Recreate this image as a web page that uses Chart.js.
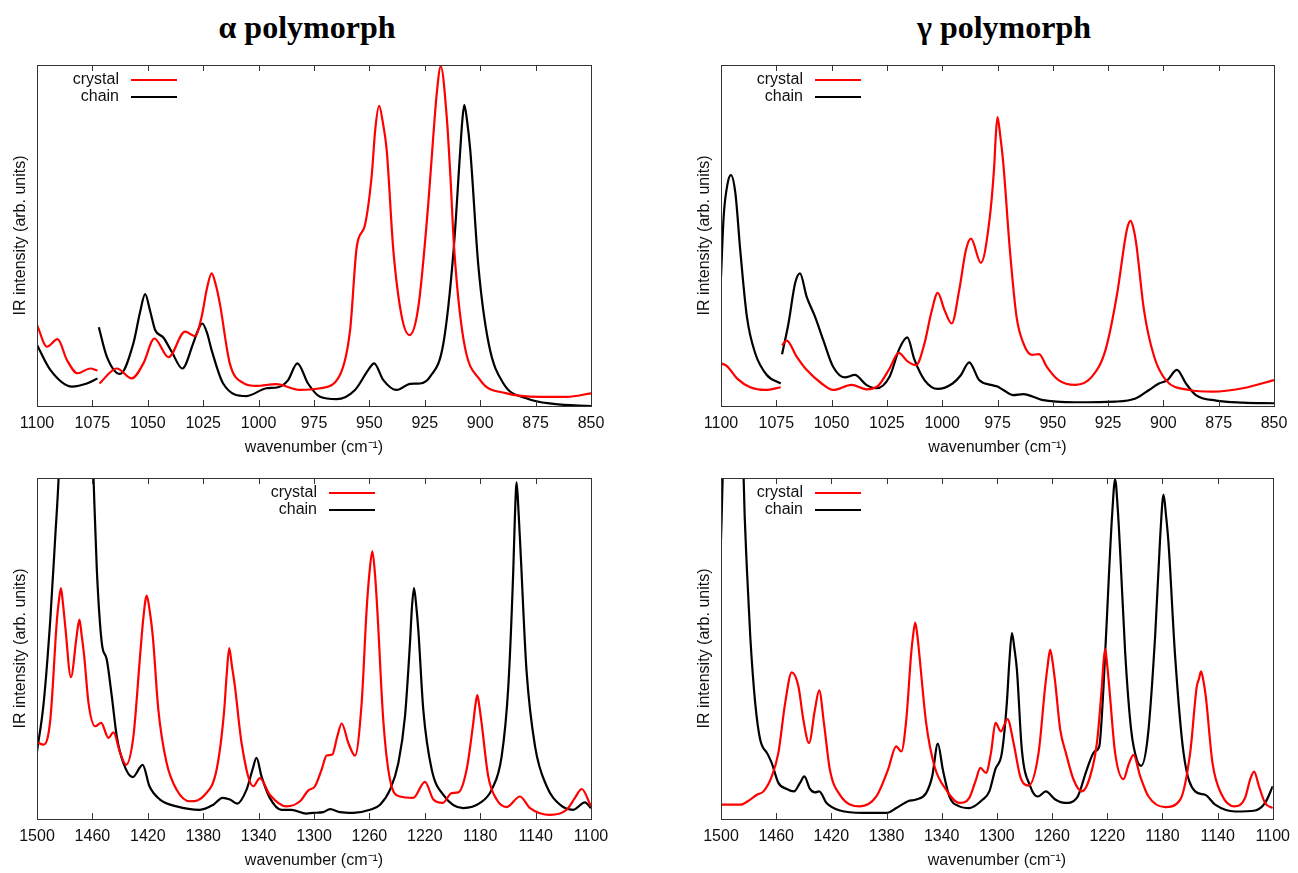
<!DOCTYPE html>
<html>
<head>
<meta charset="utf-8">
<script src="https://cdn.jsdelivr.net/npm/chart.js@4.4.1/dist/chart.umd.min.js"></script>
<style>
body { margin: 0; background: #fff; width: 1298px; height: 873px; position: relative; overflow: hidden; }
canvas { position: absolute; }
.ttl { position: absolute; width: 400px; text-align: center; font: bold 32px "Liberation Serif", serif; line-height: 32px; color: #000; top: 11px; }
</style>
</head>
<body>
<div class="ttl" style="left:107px">α polymorph</div>
<div class="ttl" style="left:804px">γ polymorph</div>
<canvas id="alphaLow" width="620" height="422" style="left:0;top:40px"></canvas>
<canvas id="gammaLow" width="614" height="422" style="left:684px;top:40px"></canvas>
<canvas id="alphaHigh" width="620" height="422" style="left:0;top:453px"></canvas>
<canvas id="gammaHigh" width="614" height="422" style="left:684px;top:453px"></canvas>
<script>
// tick labels
var lowTicks = [1100, 1075, 1050, 1025, 1000, 975, 950, 925, 900, 875, 850];
var highTicks = [1500, 1460, 1420, 1380, 1340, 1300, 1260, 1220, 1180, 1140, 1100];

// alpha polymorph, 850-1100 cm-1 (null = break in the curve)
var alphaLowCrystalX = [1100, 1095.5, 1090.7, 1086.5, 1081.7, 1076, 1072.7, 1072.3, 1071.8, 1064, 1057.2, 1052, 1047, 1040.7, 1033.2, 1028.7, 1025.7, 1023.3, 1021.2, 1019.3, 1017.5, 1013, 1007, 1001, 992, 981.5, 972.3, 963.3, 958.7, 955.7, 952, 949, 947.3, 945.6, 943.9, 942.2, 939.2, 935.4, 931.9, 927.9, 923.3, 921.3, 919.6, 917.8, 915.1, 913.5, 911.7, 907.5, 900, 888, 872.9, 860.8, 850];
var alphaLowCrystalY = [23.8, 17.4, 19.6, 13.5, 9.6, 11.0, 10.4, null, 6.6, 11.0, 8.1, 12.5, 19.8, 14.3, 21.8, 20.5, 26.2, 34.5, 38.9, 35.5, 30.1, 12.5, 6.8, 5.9, 6.4, 4.7, 5.2, 9.1, 22.3, 46.7, 53.1, 67.3, 81.5, 88.0, 83, 75.1, 45.7, 26.2, 20.8, 29.1, 60.4, 78, 91.7, 99.6, 84.8, 68, 45.7, 19.4, 7.6, 3.7, 2.7, 2.7, 3.7];
var alphaLowChainX = [1100, 1094, 1084.2, 1077.5, 1072.7, 1072.4, 1072.1, 1068.5, 1062.5, 1056.5, 1053.5, 1051.2, 1049, 1046.7, 1043, 1039.2, 1034.4, 1029.5, 1027.5, 1025.4, 1023.3, 1021.2, 1016, 1005.5, 996.5, 991.2, 986.7, 982.5, 977.7, 972.3, 964.8, 956.5, 950.5, 947.9, 943.7, 937.7, 931.6, 927.1, 922.6, 916.6, 912, 909, 908.1, 907.2, 905.9, 904.5, 900.8, 896.2, 889.5, 878.9, 866.9, 850];
var alphaLowChainY = [17.9, 10.6, 5.7, 6.6, 8.1, null, 23.1, 14.5, 9.4, 18.4, 27.5, 32.8, 28, 22.3, 20.1, 15.9, 11.0, 18.4, 22, 24.2, 21.5, 16.4, 6.6, 2.9, 5.2, 5.5, 7.6, 12.5, 6.6, 2.7, 2.0, 4.7, 10.6, 12.5, 7.6, 4.7, 6.5, 6.6, 8.6, 18.4, 45.7, 75.1, 83.5, 88.3, 83.5, 75.1, 40.9, 18.4, 6.6, 2.2, 0.6, 0];

// gamma polymorph, 850-1100 cm-1
var gammaLowCrystalX = [1100, 1097.3, 1092.8, 1086.8, 1080, 1073, 1072.7, 1072.4, 1070.3, 1065.8, 1061.3, 1054.5, 1049.3, 1041, 1034.3, 1029, 1023.8, 1019.7, 1015.5, 1011.8, 1008, 1005, 1002, 999, 995.7, 992.3, 989.3, 987, 982.5, 978.8, 976.5, 975.8, 975, 973.8, 972.4, 969.4, 966.4, 963.3, 959.5, 956.2, 952.7, 947.4, 939.8, 932.3, 926.2, 920.9, 917.1, 916, 914.8, 913.5, 912.3, 908.8, 904.2, 898.9, 888.3, 877.7, 864.1, 850];
var gammaLowCrystalY = [12.5, 11.7, 8.1, 5.5, 4.7, 5.5, null, 17.8, 19.2, 14.5, 10.6, 6.6, 4.7, 6.2, 4.9, 5.9, 11.0, 15.6, 13.0, 12.0, 18.4, 27.2, 33.2, 28.2, 24.2, 34.0, 45.7, 49.1, 42.0, 53.6, 70.2, 79, 84.7, 79.5, 71.3, 45.7, 26.2, 18.4, 15.0, 15.2, 11.5, 7.6, 6.2, 8.6, 16.4, 33.0, 49.7, 53, 54.3, 52, 47.7, 28.2, 14.5, 7.6, 4.7, 4.2, 5.2, 7.6];
var gammaLowChainX = [1100, 1098.8, 1097, 1095.5, 1093.5, 1091.3, 1088.3, 1084.5, 1079.3, 1073, 1072.7, 1072.4, 1069.5, 1066.5, 1064.3, 1061.3, 1057.5, 1053.8, 1049.3, 1044, 1039.5, 1034.3, 1029.8, 1023.8, 1019.3, 1015.8, 1012.5, 1008, 1002, 995.3, 991.5, 987.8, 983.3, 978, 975, 972.4, 967.9, 963.3, 955, 939.8, 921.7, 912.6, 906.5, 902, 898.2, 893.9, 889.8, 885.3, 876.2, 864.1, 850];
var gammaLowChainY = [37.9, 55.5, 65.3, 67.7, 62.4, 45.7, 26.2, 15.4, 9.1, 6.6, null, 15.2, 24.2, 36.0, 38.9, 32.1, 26.2, 19.4, 11.5, 8.4, 9.1, 6.2, 5.2, 8.6, 16.9, 20.1, 13.5, 7.6, 5.0, 6.6, 9.1, 12.8, 7.6, 6.2, 5.7, 4.7, 3.2, 3.5, 1.8, 1.1, 1.3, 2.2, 4.7, 6.6, 7.6, 10.6, 6.6, 3.2, 1.6, 1.0, 0.8];

// alpha polymorph, 1100-1500 cm-1 (chain peak near 1472 runs off the top)
var alphaHighCrystalX = [1500, 1495.2, 1490.4, 1485.6, 1484.2, 1482.7, 1481.2, 1479.6, 1475.5, 1471.7, 1470.6, 1469.3, 1467.8, 1465.9, 1462.8, 1458, 1453.7, 1448.4, 1444.8, 1440, 1435.7, 1430.4, 1425.6, 1423.2, 1420.8, 1418.6, 1416.4, 1412.4, 1406.4, 1399.2, 1389.6, 1378.8, 1370.3, 1365, 1363.1, 1361.2, 1359.3, 1357.1, 1352.3, 1343.9, 1339.1, 1331.9, 1319.9, 1310.1, 1304.1, 1299.3, 1294.5, 1290.9, 1286.8, 1283.2, 1280, 1275.2, 1270.4, 1265.6, 1262, 1260, 1257.9, 1256, 1254.3, 1250, 1245.1, 1237.9, 1228.3, 1219.9, 1213.8, 1207.1, 1200.6, 1195.8, 1189.8, 1185, 1183.6, 1182.1, 1180.6, 1179, 1174.2, 1168.1, 1160.9, 1151.3, 1144, 1129.6, 1117.6, 1111.6, 1106.7, 1100];
var alphaHighCrystalY = [22.5, 21.8, 29.1, 58.5, 64, 67.7, 63, 56.5, 41.6, 52.6, 56, 58.5, 54, 47.7, 34.0, 27.2, 28.2, 23.8, 25.4, 19.4, 15.9, 24.2, 47.7, 59, 65.5, 61, 53.6, 32.1, 16.4, 8.6, 5.2, 7.1, 14.5, 31.1, 42, 50.1, 45, 38.9, 22.3, 9.6, 12.0, 7.1, 3.7, 5.2, 8.4, 9.6, 14.5, 18.6, 18.9, 24.2, 28.0, 22.3, 18.6, 34.0, 61.4, 72, 78.5, 72, 61.4, 29.1, 11.5, 6.6, 6.2, 10.9, 5.7, 4.7, 7.6, 7.8, 14.5, 28.2, 33, 36.3, 33, 28.2, 12.5, 5.7, 3.5, 6.6, 3.2, 1.2, 2.7, 6.2, 8.8, 3.7];
var alphaHighChainX = [1500, 1495.2, 1490.4, 1486.8, 1484.4, 1480, 1472, 1464, 1459.2, 1456.8, 1453.2, 1449.6, 1446, 1442.4, 1437.6, 1430.9, 1423.7, 1418.8, 1411.2, 1399.2, 1382.4, 1372.7, 1366, 1360.7, 1355.5, 1348.7, 1344.4, 1341.5, 1337.9, 1331.9, 1323.5, 1316.3, 1305.5, 1300.5, 1293.3, 1288.4, 1281.2, 1271.6, 1259.6, 1252.3, 1245.1, 1239.1, 1234.3, 1230.7, 1229.3, 1227.8, 1226.3, 1224.7, 1221.1, 1215, 1206.6, 1192.2, 1180.1, 1171.7, 1164.5, 1159.7, 1156.1, 1155, 1153.7, 1152.3, 1150.8, 1146.6, 1140.4, 1132, 1122.4, 1112.8, 1104.4, 1100];
var alphaHighChainY = [19.8, 34.0, 58.5, 82.9, 100, 150, 245, 155, 100, 73.1, 51.6, 46.7, 36.0, 24.2, 16.4, 12.3, 15.9, 9.6, 5.7, 3.7, 2.7, 4.2, 6.2, 5.7, 4.5, 8.6, 14.5, 17.9, 12.5, 6.2, 2.7, 2.7, 1.6, 1.8, 2.0, 2.9, 2.0, 1.8, 2.7, 4.2, 8.6, 16.4, 30.1, 51.6, 62, 67.7, 63, 55.5, 32.1, 14.5, 7.1, 3.2, 4.7, 8.6, 18.4, 38.9, 73.1, 88, 98.7, 90, 78.0, 43.8, 21.3, 9.6, 4.2, 2.7, 4.9, 3.2];

// gamma polymorph, 1100-1500 cm-1 (chain peak near 1491 runs off the top)
var gammaHighCrystalX = [1500, 1486, 1478.8, 1474, 1469.2, 1463.2, 1458.4, 1453.5, 1448.7, 1443.9, 1440.3, 1436.2, 1431.9, 1428.8, 1425.4, 1421.1, 1413.8, 1399.4, 1387.4, 1378.9, 1373, 1369.3, 1365.7, 1362.1, 1360.7, 1359.2, 1357.7, 1356.1, 1351.3, 1345.2, 1336.8, 1327.2, 1320, 1315.2, 1312, 1307.9, 1304.3, 1301, 1297.1, 1292.3, 1287.9, 1283.1, 1277.1, 1269.8, 1265, 1263.2, 1261.4, 1259.6, 1257.7, 1254.1, 1250, 1244.4, 1238.4, 1232.4, 1227.5, 1223.9, 1222.7, 1221.5, 1220, 1218.6, 1214.3, 1208.2, 1204.6, 1201, 1196.1, 1190.1, 1178, 1167.1, 1159.9, 1155.1, 1153.6, 1152, 1150.3, 1148.6, 1143.7, 1137, 1127.8, 1120.1, 1116.5, 1113.6, 1110, 1105.6, 1100];
var gammaHighCrystalY = [4.2, 4.2, 5.7, 7.1, 8.1, 12.5, 19.4, 34.0, 43.0, 38.9, 29.1, 22.3, 32.1, 37.7, 28.2, 14.5, 7.1, 3.7, 6.6, 14.5, 21.3, 19.8, 29.1, 48.7, 54, 57.6, 54, 47.7, 28.2, 15.4, 8.6, 4.7, 6.2, 11.5, 15.0, 13.5, 19.4, 28.2, 25.7, 29.3, 22.3, 12.5, 9.8, 19.4, 38.9, 45, 49.7, 46, 39.9, 26.2, 19.4, 11.5, 8.1, 12.5, 22.3, 38.9, 46, 49.9, 45, 38.9, 19.4, 11.7, 15.9, 18.8, 12.5, 6.6, 3.5, 5.7, 19.4, 38.9, 41, 43.3, 40.5, 36.0, 16.4, 7.1, 3.7, 6.2, 11.5, 13.9, 9.6, 4.7, 3.2];
var gammaHighChainX = [1500, 1498.8, 1495, 1491, 1487.5, 1483.6, 1481.2, 1478.8, 1475.2, 1471.6, 1466.3, 1463.2, 1458.4, 1452.3, 1447.1, 1442.7, 1439.6, 1435.5, 1431.9, 1428.8, 1423.5, 1413.8, 1397, 1380.1, 1372.9, 1364.5, 1358.5, 1351.3, 1346.9, 1342.8, 1339.2, 1334.4, 1327.2, 1320, 1310.3, 1305.5, 1301.2, 1296.4, 1292.8, 1291, 1289.1, 1287.3, 1285.5, 1281.9, 1275.8, 1270.3, 1264.5, 1257.7, 1250.5, 1242, 1234.8, 1229.2, 1225.8, 1222.7, 1218.6, 1216.5, 1214.3, 1212.4, 1210.6, 1207, 1202.7, 1198.6, 1195.4, 1190.6, 1185.3, 1181.6, 1179.2, 1177.4, 1175.6, 1170.8, 1164.7, 1156.3, 1149, 1141.8, 1127.3, 1112.8, 1105.6, 1100];
var gammaHighChainY = [81.9, 100, 196, 285, 200, 100, 73.1, 53.6, 34.0, 23.3, 19.1, 16.4, 10.6, 8.8, 8.1, 10.6, 12.5, 8.8, 7.8, 8.1, 4.7, 2.5, 1.8, 1.8, 3.2, 5.2, 5.7, 7.6, 12.5, 22.1, 14.5, 6.6, 3.7, 3.2, 5.7, 8.1, 14.5, 19.4, 34.0, 46, 54.5, 50, 43.8, 20.3, 9.6, 6.6, 8.1, 5.7, 4.7, 6.2, 14.5, 19.8, 21.3, 38.9, 73.1, 89, 99.6, 91, 78.0, 48.7, 26.2, 17.4, 15.6, 24.2, 53.6, 82.9, 95.1, 89, 80.9, 47.7, 19.4, 8.1, 7.1, 4.2, 2.2, 2.5, 4.7, 9.6];

function pairs(xs, ys) {
    return xs.map(function (x, i) { return { x: x, y: ys[i] }; });
}

// border box, inward ticks on top and bottom, and the little key
var framePlugin = {
    id: 'frame',
    afterDatasetsDraw: function (chart, args, opts) {
        var ctx = chart.ctx, a = chart.chartArea, xs = chart.scales.x;
        ctx.save();
        ctx.strokeStyle = '#333';
        ctx.lineWidth = 1;
        ctx.beginPath();
        xs.ticks.forEach(function (t) {
            var px = Math.round(xs.getPixelForValue(t.value)) + 0.5;
            ctx.moveTo(px, a.bottom);
            ctx.lineTo(px, a.bottom - 6);
            ctx.moveTo(px, a.top);
            ctx.lineTo(px, a.top + 6);
        });
        ctx.stroke();
        ctx.strokeRect(Math.round(a.left) + 0.5, Math.round(a.top) + 0.5, Math.round(a.right - a.left), Math.round(a.bottom - a.top));

        ctx.font = '16px "Liberation Sans"';
        ctx.textAlign = 'right';
        ctx.textBaseline = 'middle';
        chart.data.datasets.forEach(function (ds, i) {
            var y = a.top + 15 + i * 17;
            var x = a.left + opts.keyX;
            ctx.fillStyle = '#111';
            ctx.fillText(ds.label, x, y);
            ctx.strokeStyle = ds.borderColor;
            ctx.lineWidth = 2.2;
            ctx.beginPath();
            ctx.moveTo(x + 12, y);
            ctx.lineTo(x + 58, y);
            ctx.stroke();
        });
        ctx.restore();
    }
};

function makeChart(id, ticks, crystal, chain, keyX, padRight) {
    var lo = Math.min.apply(null, ticks), hi = Math.max.apply(null, ticks);
    return new Chart(document.getElementById(id),
    {
        type: 'line',
        data:
        {
            datasets: [
            {
                label: 'crystal',
                data: crystal,
                borderColor: '#f00',
                borderWidth: 2.2,
                pointRadius: 0,
                cubicInterpolationMode: 'monotone',
                spanGaps: false
            },
            {
                label: 'chain',
                data: chain,
                borderColor: '#000',
                borderWidth: 2.2,
                pointRadius: 0,
                cubicInterpolationMode: 'monotone',
                spanGaps: false
            }]
        },
        options:
        {
            responsive: false,
            animation: false,
            layout: { padding: { top: 25, right: padRight, left: 0, bottom: 0 } },
            plugins:
            {
                legend: { display: false },
                tooltip: { enabled: false },
                frame: { keyX: keyX }
            },
            scales:
            {
                x:
                {
                    type: 'linear',
                    reverse: true,
                    min: lo,
                    max: hi,
                    grid: { display: false, drawTicks: false },
                    border: { display: false },
                    afterBuildTicks: function (s) {
                        s.ticks = ticks.map(function (v) { return { value: v }; });
                    },
                    afterFit: function (s) { s.height = 56; },
                    ticks:
                    {
                        autoSkip: false,
                        maxRotation: 0,
                        padding: 8,
                        color: '#111',
                        font: { family: 'Liberation Sans', size: 16 },
                        callback: function (v) { return String(v); }
                    },
                    title:
                    {
                        display: true,
                        text: 'wavenumber (cm⁻¹)',
                        color: '#111',
                        font: { family: 'Liberation Sans', size: 16 },
                        padding: { top: 0, bottom: 5 }
                    }
                },
                y:
                {
                    min: 0,
                    max: 100,
                    grid: { display: false, drawTicks: false },
                    border: { display: false },
                    ticks: { display: false },
                    afterFit: function (s) { s.width = 37; },
                    title:
                    {
                        display: true,
                        text: 'IR intensity (arb. units)',
                        color: '#111',
                        font: { family: 'Liberation Sans', size: 16 },
                        padding: { top: 11, bottom: 0 }
                    }
                }
            }
        },
        plugins: [framePlugin]
    });
}

makeChart('alphaLow', lowTicks, pairs(alphaLowCrystalX, alphaLowCrystalY), pairs(alphaLowChainX, alphaLowChainY), 82, 29);
makeChart('gammaLow', lowTicks, pairs(gammaLowCrystalX, gammaLowCrystalY), pairs(gammaLowChainX, gammaLowChainY), 82, 24);
makeChart('alphaHigh', highTicks, pairs(alphaHighCrystalX, alphaHighCrystalY), pairs(alphaHighChainX, alphaHighChainY), 280, 29);
makeChart('gammaHigh', highTicks, pairs(gammaHighCrystalX, gammaHighCrystalY), pairs(gammaHighChainX, gammaHighChainY), 82, 24);
</script>
</body>
</html>
